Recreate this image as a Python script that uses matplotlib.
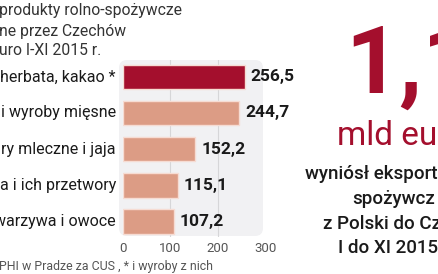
import matplotlib
matplotlib.use("Agg")
import matplotlib.pyplot as plt
from matplotlib.transforms import Affine2D
from matplotlib.patches import FancyBboxPatch

# ---- data ----
categories = ["herbata, kakao *", "i wyroby mięsne", "ry mleczne i jaja",
              "a i ich przetwory", "warzywa i owoce"]
values = [256.5, 244.7, 152.2, 115.1, 107.2]
value_labels = ["256,5", "244,7", "152,2", "115,1", "107,2"]
xticks = [0, 100, 200, 300]
title_lines = ["produkty rolno-spożywcze", "ne przez Czechów", "uro I-XI 2015 r."]
source_text = "PHI w Pradze za CUS , * i wyroby z nich"
big_number = "1,1"
big_unit = "mld eu"
side_lines = ["wyniósł eksport", "spożywcz", "z Polski do Cz", "I do XI 2015"]

DARK = "#a40f2d"
SALMON = "#dc9c85"
W, H, DPI = 439, 274, 100

fig = plt.figure(figsize=(W / DPI, H / DPI), dpi=DPI)
fig.patch.set_facecolor("white")
# pixel transform, origin top-left
T = Affine2D().scale(1 / DPI, -1 / DPI).translate(0, H / DPI) + fig.dpi_scale_trans

# panel background
panel = FancyBboxPatch((119, 60), 144, 176, boxstyle="round,pad=0,rounding_size=8",
                       transform=T, facecolor="#f1f1f3", edgecolor="none", zorder=-5)
fig.patches.append(panel)

ax_left, ax_right = 123, 265.5
ax_top, ax_bot = 60, 237
ax = fig.add_axes([ax_left / W, 1 - ax_bot / H, (ax_right - ax_left) / W, (ax_bot - ax_top) / H])
ax.set_zorder(2)
ax.patch.set_visible(False)
ypos = list(range(len(categories)))
colors = [DARK] + [SALMON] * (len(categories) - 1)
ax.barh(ypos, values, height=0.69, color=colors, edgecolor="#f6dcd3", linewidth=1.0, zorder=3)
ax.set_xlim(0, 300)
ax.set_ylim(4.44, -0.47)
for x in xticks[1:3]:
    ax.axvline(x, color="#d6d6d8", linewidth=0.8, zorder=1)
for s in ax.spines.values():
    s.set_visible(False)
ax.set_xticks([])
ax.set_yticks([])

for y, v, lab in zip(ypos, values, value_labels):
    ax.annotate(lab, (v, y), xytext=(6, 0), textcoords="offset pixels", va="center", ha="left",
                fontsize=12.5, fontweight="bold", color="#1a1a1a",
                family="Roboto", zorder=4, annotation_clip=False)
for y, lab in zip(ypos, categories):
    ax.annotate(lab, (0, y), xytext=(-7, 0), textcoords="offset pixels", va="center", ha="right",
                fontsize=11.5, color="#1a1a1a", family="Roboto", annotation_clip=False)

# tick labels
for t in xticks:
    px = ax_left + (ax_right - ax_left) * t / 300
    fig.text(px, 248, str(t), transform=T, ha="center", va="center", fontsize=9.5,
             color="#555555", family="Roboto")

# title
for i, line in enumerate(title_lines):
    fig.text(-1, [15, 36, 55][i], line, transform=T, ha="left", va="baseline", fontsize=11.3,
             color="#333333", family="Roboto")

fig.text(-1, 270, source_text, transform=T, ha="left", va="baseline", fontsize=8.9,
         color="#555555", family="Roboto")

# big number
fig.text(345, 93, big_number, transform=T, ha="left", va="baseline", fontsize=68,
         fontweight="bold", color=DARK, family="Roboto")
fig.text(337, 145, big_unit, transform=T, ha="left", va="baseline", fontsize=24,
         color=DARK, family="Roboto")

for i, (line, x0) in enumerate(zip(side_lines, [305, 352, 323, 338])):
    fig.text(x0, [179, 204, 229, 253][i], line, transform=T, ha="left", va="baseline",
             fontsize=13.5, color="#1a1a1a", family="Roboto", fontweight="medium")

fig.savefig("out.png", dpi=DPI)
